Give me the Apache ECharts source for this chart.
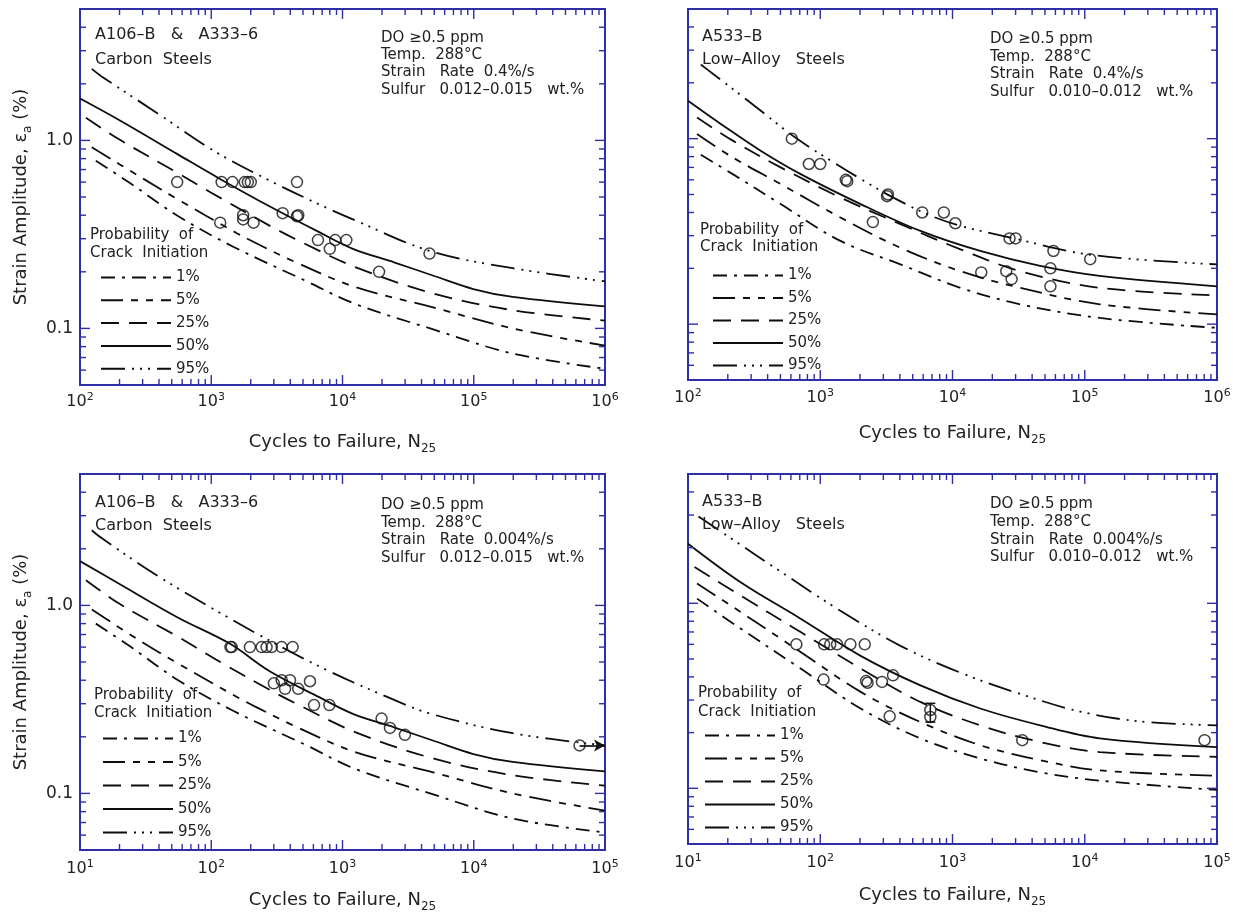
<!DOCTYPE html>
<html>
<head>
<meta charset="utf-8">
<script src="https://cdn.jsdelivr.net/npm/echarts@6/dist/echarts.min.js"></script>
<style>
html,body{margin:0;padding:0;background:#fff;}
#chart{width:1240px;height:913px;}
</style>
</head>
<body>
<div id="chart"></div>
<script>
// ================= DATA =================
// Probability curves: [cycles N, strain amplitude %]
// Top-left: carbon steels, strain rate 0.4%/s
const tl_p1  = [[132,0.78],[245,0.588],[561,0.395],[1470,0.272],[5330,0.178],[12500,0.135],[49800,0.0985],[198000,0.0735],[1000000,0.061]];
const tl_p5  = [[123,0.92],[282,0.645],[561,0.484],[1580,0.32],[2220,0.283],[4450,0.224],[12500,0.166],[49800,0.129],[198000,0.100],[1000000,0.081]];
const tl_p25 = [[111,1.32],[200,1.01],[561,0.668],[820,0.571],[1200,0.49],[2800,0.351],[4450,0.297],[12500,0.212],[49800,0.153],[198000,0.125],[1000000,0.110]];
const tl_p50 = [[100,1.67],[200,1.28],[561,0.84],[1166,0.624],[2800,0.445],[6700,0.324],[12000,0.265],[25000,0.224],[50000,0.19],[99300,0.162],[198000,0.147],[1000000,0.131]];
const tl_p95 = [[123,2.40],[146,2.19],[398,1.38],[1045,0.881],[2800,0.61],[7600,0.437],[12000,0.38],[46400,0.258],[198000,0.209],[1000000,0.178]];
const tl_points = [[550,0.6],[1200,0.6],[1450,0.6],[1800,0.6],[1900,0.6],[2000,0.6],[4500,0.6],
  [1170,0.365],[1750,0.38],[1750,0.40],[2100,0.365],[3500,0.41],[4500,0.395],[4600,0.40],
  [6500,0.295],[8000,0.265],[8800,0.295],[10700,0.295],[19000,0.2],[46000,0.25]];

// Top-right: low-alloy steels, strain rate 0.4%/s
const tr_p1  = [[125,0.82],[218,0.644],[502,0.444],[1420,0.281],[4040,0.21],[11500,0.157],[32500,0.128],[130000,0.108],[1000000,0.0955]];
const tr_p5  = [[117,1.06],[218,0.792],[502,0.569],[1420,0.376],[4040,0.258],[11500,0.193],[32500,0.157],[130000,0.128],[1000000,0.113]];
const tr_p25 = [[117,1.30],[218,0.976],[502,0.70],[1420,0.482],[4040,0.346],[11500,0.253],[32500,0.193],[130000,0.157],[1000000,0.143]];
const tr_p50 = [[100,1.60],[177,1.2],[354,0.861],[711,0.644],[2020,0.444],[5720,0.318],[16200,0.248],[46000,0.206],[130000,0.182],[1000000,0.16]];
const tr_p95 = [[125,2.51],[154,2.24],[316,1.51],[640,1.02],[1275,0.741],[2230,0.582],[3510,0.484],[6580,0.389],[11500,0.339],[30300,0.288],[113000,0.236],[1000000,0.21]];
const tr_points = [[610,1.0],[820,0.73],[1000,0.73],[1560,0.6],[1600,0.59],[3200,0.49],[3250,0.50],[2500,0.355],
  [5900,0.40],[8600,0.40],[10500,0.35],[16500,0.19],[25500,0.193],[27000,0.29],[30000,0.29],[28000,0.175],
  [55000,0.20],[55000,0.16],[58000,0.248],[110000,0.224]];

// Bottom-left: carbon steels, strain rate 0.004%/s
const bl_p1  = [[13.2,0.80],[24.5,0.60],[56,0.40],[147,0.275],[533,0.18],[1250,0.135],[4980,0.0985],[19800,0.0735],[100000,0.062]];
const bl_p5  = [[12.3,0.95],[28,0.655],[56,0.49],[158,0.325],[222,0.287],[445,0.226],[1250,0.166],[4980,0.129],[19800,0.100],[100000,0.081]];
const bl_p25 = [[11.1,1.36],[20,1.02],[56,0.68],[82,0.58],[120,0.495],[280,0.355],[445,0.30],[1250,0.212],[4980,0.153],[19800,0.125],[100000,0.110]];
const bl_p50 = [[10,1.72],[20,1.30],[56,0.86],[139,0.625],[281,0.445],[670,0.324],[1200,0.265],[2500,0.224],[5000,0.19],[9930,0.162],[19800,0.147],[100000,0.131]];
const bl_p95 = [[12.3,2.51],[14.6,2.28],[40,1.42],[124,0.891],[222,0.708],[715,0.462],[2235,0.324],[4640,0.266],[19800,0.209],[100000,0.18]];
const bl_points = [[140,0.6],[143,0.6],[197,0.6],[242,0.6],[264,0.6],[289,0.6],[344,0.6],[417,0.6],
  [300,0.385],[344,0.40],[398,0.40],[365,0.36],[460,0.36],[565,0.395],[607,0.295],[794,0.295],
  [1985,0.25],[2300,0.223],[2990,0.205],[64000,0.18]];
const bl_runout = [64000,0.18];

// Bottom-right: low-alloy steels, strain rate 0.004%/s
const br_p1  = [[11.7,1.06],[25,0.73],[71,0.444],[202,0.27],[572,0.186],[1620,0.145],[4600,0.122],[13000,0.110],[100000,0.098]];
const br_p5  = [[11.7,1.28],[25,0.898],[71,0.546],[202,0.332],[572,0.228],[1620,0.171],[4600,0.142],[13000,0.125],[100000,0.117]];
const br_p25 = [[11.2,1.57],[25,1.10],[71,0.70],[202,0.444],[572,0.293],[1620,0.219],[4600,0.178],[13000,0.157],[100000,0.148]];
const br_p50 = [[10,2.10],[25,1.30],[71,0.826],[202,0.52],[572,0.36],[1620,0.27],[4600,0.219],[13000,0.186],[100000,0.167]];
const br_p95 = [[12,2.95],[20.3,2.29],[50,1.486],[142,0.912],[404,0.589],[1145,0.422],[3240,0.324],[9200,0.26],[26000,0.23],[100000,0.219]];
const br_points = [[66,0.6],[107,0.6],[119,0.6],[134,0.6],[169,0.6],[217,0.6],[106,0.387],[222,0.38],[228,0.372],
  [293,0.376],[355,0.408],[335,0.245],[680,0.265],[680,0.243],[3370,0.182],[80500,0.182]];
const br_range = [[680,0.228,0.288]];   // [N, low, high]

// Axes / ticks / labels
const legendNames = ['1%','5%','25%','50%','95%'];
const xDecadesTop = [100,1000,10000,100000,1000000];
const xDecadesBottom = [10,100,1000,10000,100000];
const yDecades = [0.01,0.1,1];
const yMajorTicks = [0.1,1];
const yTickLabels = ['0.1','1.0'];
const minorSteps = [2,3,4,5,6,7,8,9];
const yRange = [0.05,5];

const tl_info = ['DO ≥0.5 ppm','Temp.  288°C','Strain   Rate  0.4%/s','Sulfur   0.012–0.015   wt.%'];
const tr_info = ['DO ≥0.5 ppm','Temp.  288°C','Strain   Rate  0.4%/s','Sulfur   0.010–0.012   wt.%'];
const bl_info = ['DO ≥0.5 ppm','Temp.  288°C','Strain   Rate  0.004%/s','Sulfur   0.012–0.015   wt.%'];
const br_info = ['DO ≥0.5 ppm','Temp.  288°C','Strain   Rate  0.004%/s','Sulfur   0.010–0.012   wt.%'];
const carbonName = ['A106–B   &   A333–6','Carbon  Steels'];
const alloyName = ['A533–B','Low–Alloy   Steels'];
const probTitle = ['Probability  of','Crack  Initiation'];

// ================= STYLE / LAYOUT =================
const FONT = 'DejaVu Sans';
const INK = '#222222';
const FRAME = '#2e2ea6';
const DASH = {'1%':[14,7,3,7], '5%':[22,8,7,8,7,8], '25%':[18,10], '50%':'solid', '95%':[24,7,2,6,2,6,2,7]};

const PANELS = [
  {grid:{left:80,top:9,width:525,height:376}, xDec:xDecadesTop, curves:[tl_p1,tl_p5,tl_p25,tl_p50,tl_p95], points:tl_points,
   showY:true, xNameGap:44, xLabelMargin:7, legend:{left:100,top:270,gap:7.8}, prob:[90,235,253],
   names:carbonName, nameAt:[95,35,60], info:tl_info, infoAt:[381,[38,55,72,90]]},
  {grid:{left:688,top:9,width:529,height:371}, xDec:xDecadesTop, curves:[tr_p1,tr_p5,tr_p25,tr_p50,tr_p95], points:tr_points,
   showY:false, xNameGap:40, xLabelMargin:8, legend:{left:712,top:268,gap:7.5}, prob:[700,230,247],
   names:alloyName, nameAt:[702,37,60], info:tr_info, infoAt:[990,[39,57,74,92]]},
  {grid:{left:80,top:474,width:525,height:376}, xDec:xDecadesBottom, curves:[bl_p1,bl_p5,bl_p25,bl_p50,bl_p95], points:bl_points,
   showY:true, xNameGap:37, xLabelMargin:9, legend:{left:102,top:731,gap:8.5}, prob:[94,695,713],
   names:carbonName, nameAt:[95,503,526], info:bl_info, infoAt:[381,[505,523,540,558]], runout:bl_runout},
  {grid:{left:688,top:474,width:529,height:370}, xDec:xDecadesBottom, curves:[br_p1,br_p5,br_p25,br_p50,br_p95], points:br_points,
   showY:false, xNameGap:38, xLabelMargin:9, legend:{left:704,top:728,gap:8}, prob:[698,693,712],
   names:alloyName, nameAt:[702,502,525], info:br_info, infoAt:[990,[504,522,540,557]], range:br_range}
];

function tickData(xDec) {
  const xmin = xDec[0];
  const out = [];
  xDec.forEach((d, i) => {
    if (i > 0 && i < xDec.length-1) out.push([d, yRange[0], 0]);
    if (i < xDec.length-1) minorSteps.forEach(m => out.push([d*m, yRange[0], 1]));
  });
  yMajorTicks.forEach(v => out.push([xmin, v, 2]));
  yDecades.forEach(d => minorSteps.forEach(m => {
    const v = d*m;
    if (v > yRange[0]*1.0001 && v < yRange[1]*0.9999) out.push([xmin, v, 3]);
  }));
  return out;
}

function tickRenderer(xmin, xmax) {
  return function (params, api) {
    const a = api.value(0), b = api.value(1), kind = api.value(2);
    const st = {stroke: FRAME, lineWidth: 1.4};
    if (kind < 2) {
      const len = kind === 0 ? 10 : 6;
      const p0 = api.coord([a, yRange[0]]), p1 = api.coord([a, yRange[1]]);
      return {type:'group', children:[
        {type:'line', shape:{x1:p0[0],y1:p0[1],x2:p0[0],y2:p0[1]-len}, style:st},
        {type:'line', shape:{x1:p1[0],y1:p1[1],x2:p1[0],y2:p1[1]+len}, style:st}
      ]};
    }
    const len = kind === 2 ? 10 : 6;
    const p0 = api.coord([xmin, b]), p1 = api.coord([xmax, b]);
    return {type:'group', children:[
      {type:'line', shape:{x1:p0[0],y1:p0[1],x2:p0[0]+len,y2:p0[1]}, style:st},
      {type:'line', shape:{x1:p1[0],y1:p1[1],x2:p1[0]-len,y2:p1[1]}, style:st}
    ]};
  };
}

function rangeRenderer(params, api) {
  const lo = api.coord([api.value(0), api.value(1)]);
  const hi = api.coord([api.value(0), api.value(2)]);
  const st = {stroke:'#111', lineWidth:1.5};
  return {type:'group', children:[
    {type:'line', shape:{x1:lo[0],y1:lo[1],x2:hi[0],y2:hi[1]}, style:st},
    {type:'line', shape:{x1:lo[0]-5,y1:lo[1],x2:lo[0]+5,y2:lo[1]}, style:st},
    {type:'line', shape:{x1:hi[0]-5,y1:hi[1],x2:hi[0]+5,y2:hi[1]}, style:st}
  ]};
}

const option = {
  animation:false, backgroundColor:'#ffffff',
  grid:[], xAxis:[], yAxis:[], series:[], legend:[], graphic:{elements:[]}
};

PANELS.forEach((P, i) => {
  const xmin = P.xDec[0], xmax = P.xDec[P.xDec.length-1];
  option.grid.push(Object.assign({show:true, borderColor:FRAME, borderWidth:2, backgroundColor:'transparent',
    containLabel:false, outerBoundsMode:'none'}, P.grid));
  option.xAxis.push({
    type:'log', logBase:10, gridIndex:i, min:xmin, max:xmax,
    axisLine:{show:false}, axisTick:{show:false}, splitLine:{show:false}, minorTick:{show:false},
    axisLabel:{margin:P.xLabelMargin, showMinLabel:true, showMaxLabel:true,
      formatter: v => '{b|10}{s|' + Math.round(Math.log10(v)) + '}',
      rich:{ b:{fontFamily:FONT, fontSize:16, color:INK, lineHeight:20, verticalAlign:'middle'},
             s:{fontFamily:FONT, fontSize:11, color:INK, lineHeight:11, verticalAlign:'top'} }},
    name:'{t|Cycles to Failure, N}{u|25}', nameLocation:'middle', nameGap:P.xNameGap,
    nameTextStyle:{rich:{ t:{fontFamily:FONT, fontSize:18, color:INK, lineHeight:26, verticalAlign:'middle'},
                          u:{fontFamily:FONT, fontSize:12, color:INK, lineHeight:12, verticalAlign:'bottom'} }}
  });
  option.yAxis.push({
    type:'log', logBase:10, gridIndex:i, min:yRange[0], max:yRange[1],
    axisLine:{show:false}, axisTick:{show:false}, splitLine:{show:false}, minorTick:{show:false},
    axisLabel:{show:P.showY, margin:7, fontFamily:FONT, fontSize:17, color:INK,
      formatter: v => { const k = yMajorTicks.findIndex(t => Math.abs(t - v) < 1e-9); return k >= 0 ? yTickLabels[k] : ''; }},
    name: P.showY ? '{t|Strain Amplitude, ε}{u|a}{t| (%)}' : '', nameLocation:'middle', nameGap:46,
    nameTextStyle:{rich:{ t:{fontFamily:FONT, fontSize:18, color:INK, lineHeight:26, verticalAlign:'middle'},
                          u:{fontFamily:FONT, fontSize:12, color:INK, lineHeight:12, verticalAlign:'bottom'} }}
  });
  P.curves.forEach((data, k) => {
    const nm = legendNames[k];
    option.series.push({type:'line', name:nm, xAxisIndex:i, yAxisIndex:i, data:data, symbol:'none',
      smooth:0.35, silent:true, z:3, emphasis:{disabled:true},
      lineStyle:{color:'#0d0d0d', width:1.8, type:DASH[nm]}});
  });
  const sc = {type:'scatter', name:'Test data ' + (i+1), xAxisIndex:i, yAxisIndex:i, data:P.points,
    symbol:'circle', symbolSize:11, silent:true, z:4, emphasis:{disabled:true},
    itemStyle:{color:'rgba(0,0,0,0)', borderColor:'#111', borderWidth:1.5}};
  if (P.runout) {
    sc.markLine = {silent:true, symbol:['none','arrow'], symbolSize:[9,11], label:{show:false},
      lineStyle:{color:'#111', width:1.7, type:'solid'}, emphasis:{disabled:true},
      data:[[{coord:[P.runout[0], P.runout[1]]},{coord:[xmax, P.runout[1]]}]]};
  }
  option.series.push(sc);
  if (P.range) {
    option.series.push({type:'custom', name:'Range ' + (i+1), xAxisIndex:i, yAxisIndex:i, data:P.range,
      renderItem:rangeRenderer, silent:true, clip:false, z:4});
  }
  option.series.push({type:'custom', name:'Ticks ' + (i+1), xAxisIndex:i, yAxisIndex:i, data:tickData(P.xDec),
    renderItem:tickRenderer(xmin, xmax), silent:true, clip:false, z:6});
  option.legend.push({
    orient:'vertical', left:P.legend.left, top:P.legend.top, itemWidth:70, itemHeight:14, itemGap:P.legend.gap,
    padding:0, selectedMode:false, data:legendNames,
    itemStyle:{opacity:0}, textStyle:{fontFamily:FONT, fontSize:15, color:INK}
  });
  const txt = (x, y, s, size) => ({type:'text', x:x, y:y, silent:true, z:10,
    style:{text:s, fill:INK, font:size + 'px "' + FONT + '"', verticalAlign:'middle', textVerticalAlign:'middle'}});
  const G = option.graphic.elements;
  G.push(txt(P.nameAt[0], P.nameAt[1], P.names[0], 16));
  G.push(txt(P.nameAt[0], P.nameAt[2], P.names[1], 16));
  P.info.forEach((s, k) => G.push(txt(P.infoAt[0], P.infoAt[1][k], s, 15)));
  G.push(txt(P.prob[0], P.prob[1], probTitle[0], 15));
  G.push(txt(P.prob[0], P.prob[2], probTitle[1], 15));
});

const chart = echarts.init(document.getElementById('chart'), null, {renderer:'canvas'});
chart.setOption(option);
</script>
</body>
</html>
